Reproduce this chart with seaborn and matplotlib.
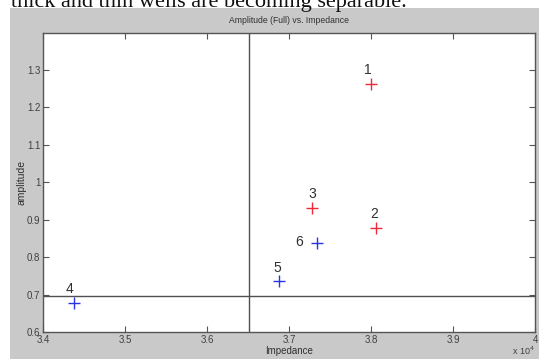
import matplotlib
matplotlib.use("Agg")
import matplotlib.pyplot as plt
import seaborn as sns
import pandas as pd

# Well measurements: impedance vs. full amplitude
well_ids = ["1", "2", "3", "4", "5", "6"]
impedance = [38000, 38060, 37280, 34380, 36880, 37340]
amplitude = [1.263, 0.877, 0.932, 0.677, 0.735, 0.839]
well_class = ["thick", "thick", "thick", "thin", "thin", "thin"]

x_ticks = [34000, 35000, 36000, 37000, 38000, 39000, 40000]
x_tick_labels = ["3.4", "3.5", "3.6", "3.7", "3.8", "3.9", "4"]
y_ticks = [0.6, 0.7, 0.8, 0.9, 1.0, 1.1, 1.2, 1.3]
y_tick_labels = ["0.6", "0.7", "0.8", "0.9", "1", "1.1", "1.2", "1.3"]

# separating thresholds
impedance_cut = 36510
amplitude_cut = 0.697

df = pd.DataFrame({"well": well_ids, "impedance": impedance,
                   "amplitude": amplitude, "cls": well_class})

sns.set_style("white")
plt.rcParams["font.family"] = ["Liberation Sans", "DejaVu Sans"]

W, H = 539, 359
fig = plt.figure(figsize=(W / 100, H / 100), dpi=100)
fig.patch.set_facecolor("white")

# grey figure panel
panel = plt.Rectangle((10 / W, 0), 1 - 10 / W, 1 - 8 / H, transform=fig.transFigure,
                      facecolor="#c9c9c9", edgecolor="none", zorder=0)
fig.add_artist(panel)

# caption line from the surrounding document, clipped at the top edge
fig.text(11 / W, 1 - 6.5 / H, "thick and thin wells are becoming separable.",
         family="Liberation Serif", fontsize=16, color="#111111",
         ha="left", va="baseline")

left, right, top, bottom = 43, 535, 32.5, 332
ax = fig.add_axes([left / W, 1 - bottom / H, (right - left) / W, (bottom - top) / H])
ax.set_facecolor("white")

sns.scatterplot(data=df, x="impedance", y="amplitude", hue="cls",
                palette={"thick": "#ee2a3a", "thin": "#2a35e0"},
                marker="+", s=75, linewidth=1.0, legend=False, ax=ax, zorder=3)

ax.axvline(impedance_cut, color="#505050", lw=1.0, zorder=2)
ax.axhline(amplitude_cut, color="#505050", lw=1.0, zorder=2)

# point labels
offsets = {"1": (-2, 5), "2": (-1, 5), "3": (0, 5), "4": (-3, 5), "5": (-1, 5), "6": (-13, -5)}
for w, xv, yv in zip(well_ids, impedance, amplitude):
    dx, dy = offsets[w]
    ax.annotate(w, (xv, yv), xytext=(dx, dy), textcoords="offset points",
                ha="center", va="bottom", fontsize=10, color="#303030")

ax.set_xlim(34000, 40000)
ax.set_ylim(0.6, 1.4)
ax.set_xticks(x_ticks)
ax.set_xticklabels(x_tick_labels)
ax.set_yticks(y_ticks)
ax.set_yticklabels(y_tick_labels)
ax.tick_params(direction="in", length=4, width=0.8, color="#555555",
               labelsize=7, labelcolor="#404040", pad=2,
               top=True, right=True, bottom=True, left=True)
for sp in ax.spines.values():
    sp.set_visible(True)
    sp.set_color("#555555")
    sp.set_linewidth(1.0)

ax.set_xlabel("Impedance", fontsize=7, color="#303030", labelpad=1)
ax.set_ylabel("amplitude", fontsize=7.5, color="#303030", labelpad=0)
ax.set_title("Amplitude (Full) vs. Impedance", fontsize=6.2, color="#303030", pad=7)

fig.text(512 / W, 1 - 355 / H, "x 10$^4$", fontsize=6.5, color="#404040",
         ha="left", va="baseline")

fig.savefig("out.png", dpi=100)
